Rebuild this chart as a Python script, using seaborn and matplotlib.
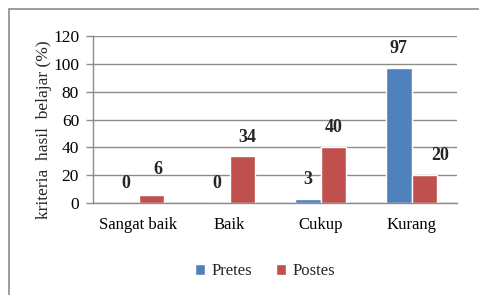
import matplotlib
matplotlib.use("Agg")
import matplotlib.pyplot as plt
import matplotlib.patches as mpatches
import seaborn as sns
import pandas as pd

# chart data
categories = ["Sangat baik", "Baik", "Cukup", "Kurang"]
pretes = [0, 0, 3, 97]
postes = [6, 34, 40, 20]
series_names = ["Pretes", "Postes"]
y_ticks = [0, 20, 40, 60, 80, 100, 120]

df = pd.DataFrame({
    "kategori": categories * 2,
    "nilai": pretes + postes,
    "tes": [series_names[0]] * 4 + [series_names[1]] * 4,
})

sns.set_theme(style="white")
plt.rcParams["font.family"] = ["Liberation Serif", "DejaVu Serif"]
serif = "Liberation Serif"

fig = plt.figure(figsize=(4.79, 2.95), dpi=100)
ax = fig.add_axes([93 / 479, 1 - 203 / 295, (457 - 93) / 479, (203 - 36) / 295])

palette = {"Pretes": "#4F81BD", "Postes": "#C0504D"}
sns.barplot(data=df, x="kategori", y="nilai", hue="tes", palette=palette,
            width=0.56, saturation=1, ax=ax, legend=True)

ax.set_ylim(0, 120)
ax.set_xlim(-0.5, 3.5)
ax.set_yticks(y_ticks)
ax.yaxis.grid(True, color="#8c8c8c", linewidth=1)
ax.set_axisbelow(True)
for side in ["top", "right"]:
    ax.spines[side].set_visible(False)
for side in ["left", "bottom"]:
    ax.spines[side].set_color("#8c8c8c")
    ax.spines[side].set_linewidth(1)

ax.set_xticks(range(len(categories)))
ax.set_xticks([i - 0.5 for i in range(len(categories) + 1)], minor=True)
ax.tick_params(axis="x", which="major", length=0, pad=10, labelsize=12, colors="black")
ax.tick_params(axis="x", which="minor", length=5, color="#8c8c8c", width=1, direction="out")
ax.tick_params(axis="y", length=5, color="#8c8c8c", width=1, direction="out",
               labelsize=12.5, pad=5, left=True)
ax.tick_params(axis="y", labelcolor="black")

ax.set_xlabel("")
ax.set_ylabel("kriteria  hasil  belajar (%)", fontsize=12.5, family=serif)
ax.yaxis.set_label_coords(-0.112, 0.437)

# bold value labels above bars
for cont in ax.containers:
    ax.bar_label(cont, fmt="%d", padding=8, fontsize=13, fontweight="bold", family=serif)

# small hand-placed nudges of some labels, as in the original chart
nudges = {(1, 0): (5, 12), (1, 1): (3.5, 7), (1, 3): (11.5, 8)}
for (si, ci), off in nudges.items():
    ax.texts[si * len(categories) + ci].xyann = off

ax.legend(loc="upper center", bbox_to_anchor=(0.4725, -0.27), ncol=2, frameon=False,
          prop={"family": serif, "size": 12}, handlelength=0.6, handleheight=0.6,
          handletextpad=0.4, columnspacing=1.4)

# outer chart border
fig.patches.append(mpatches.Rectangle((9 / 479, -0.1), 1.2, 1.1 - 9 / 295,
                                      transform=fig.transFigure, fill=False,
                                      edgecolor="#8c8c8c", linewidth=1.2))

fig.savefig("out.png", dpi=100)
